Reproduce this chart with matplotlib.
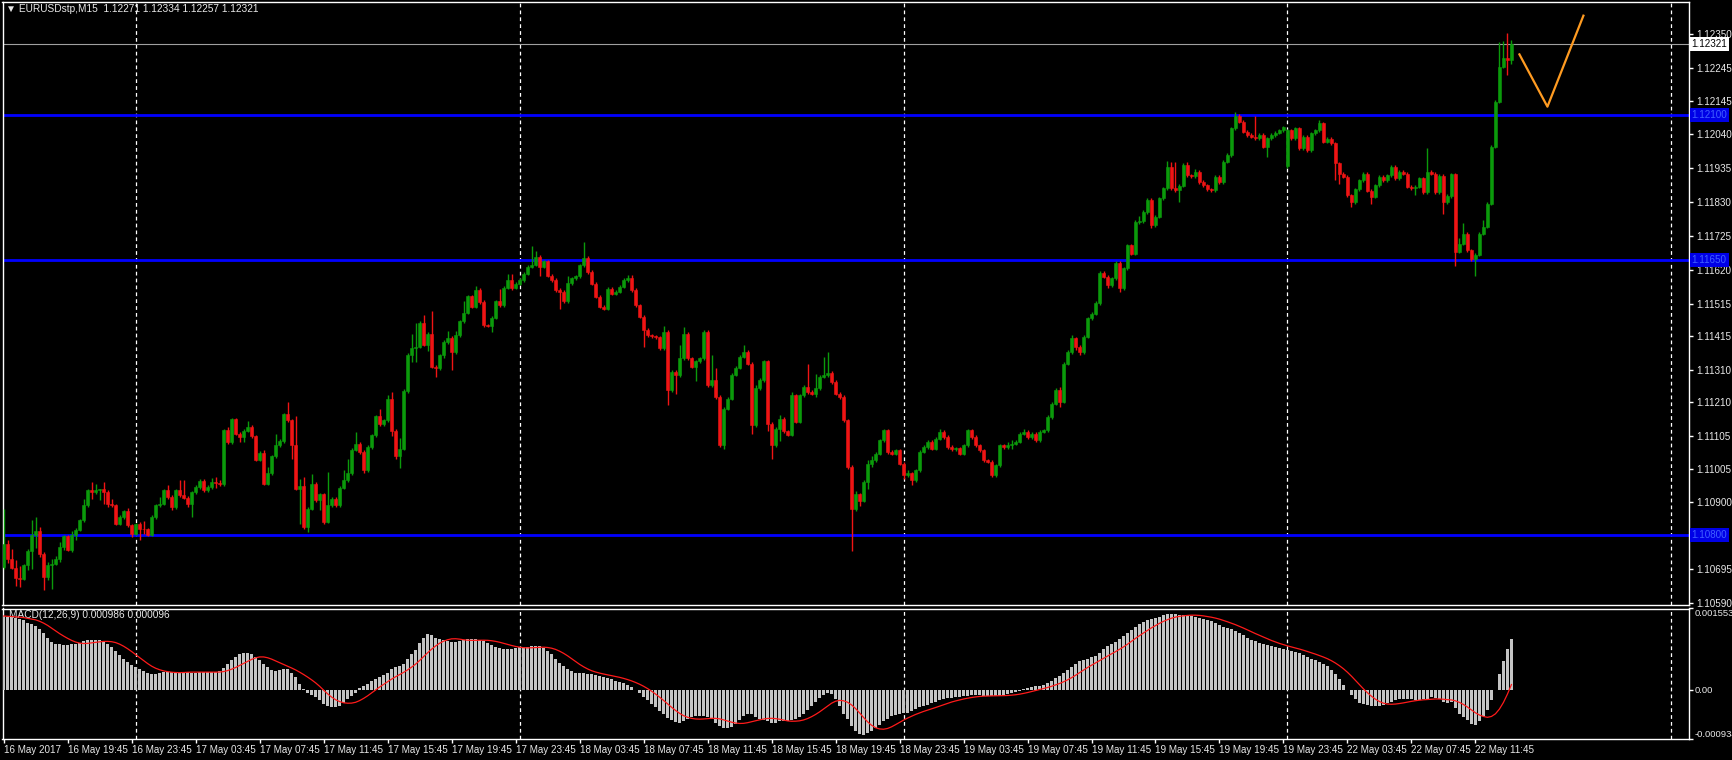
import numpy as np
import pandas as pd
import matplotlib
matplotlib.use("Agg")
import matplotlib.pyplot as plt

# EURUSD M15, prices stored as points (1e-5) above 1.10000
BASE = 1.10000
close_pts = [
    772, 726, 698, 667, 664, 705, 751, 800, 813, 739,
    669, 705, 710, 726, 762, 795, 754, 800, 816, 847,
    891, 940, 933, 940, 941, 933, 896, 891, 834, 855,
    874, 829, 803, 834, 819, 817, 798, 855, 891, 896,
    938, 917, 886, 938, 922, 915, 896, 932, 948, 967,
    938, 948, 964, 960, 957, 1124, 1087, 1157, 1113, 1103,
    1122, 1134, 1105, 1033, 1053, 958, 991, 1043, 1077, 1090,
    1173, 1155, 1077, 943, 951, 824, 881, 958, 907, 925,
    840, 891, 912, 891, 946, 969, 991, 1064, 1082, 1056,
    1000, 1072, 1108, 1167, 1142, 1155, 1222, 1121, 1044, 1067,
    1245, 1358, 1379, 1382, 1456, 1389, 1423, 1320, 1316, 1356,
    1397, 1410, 1366, 1418, 1461, 1488, 1539, 1506, 1558, 1521,
    1449, 1447, 1472, 1523, 1511, 1565, 1589, 1563, 1578, 1589,
    1609, 1630, 1637, 1660, 1630, 1647, 1602, 1589, 1558, 1552,
    1523, 1580, 1594, 1600, 1635, 1658, 1614, 1578, 1537, 1506,
    1500, 1561, 1547, 1553, 1568, 1589, 1594, 1558, 1511, 1475,
    1434, 1418, 1415, 1412, 1377, 1428, 1248, 1304, 1294, 1346,
    1423, 1346, 1320, 1337, 1346, 1428, 1263, 1279, 1227, 1077,
    1191, 1222, 1296, 1317, 1351, 1366, 1330, 1139, 1253, 1279,
    1337, 1144, 1077, 1129, 1160, 1120, 1110, 1232, 1150, 1232,
    1258, 1242, 1237, 1253, 1289, 1294, 1301, 1273, 1237, 1227,
    1155, 1010, 880, 925, 905, 963, 1020, 1030, 1051, 1093,
    1124, 1056, 1051, 1062, 1020, 984, 990, 969, 1000, 1057,
    1072, 1088, 1067, 1098, 1119, 1103, 1072, 1065, 1068, 1051,
    1077, 1124, 1103, 1077, 1062, 1031, 1026, 984, 1015, 1077,
    1072, 1077, 1082, 1088, 1113, 1119, 1103, 1113, 1093, 1119,
    1124, 1165, 1206, 1248, 1212, 1330, 1366, 1408, 1382, 1366,
    1413, 1470, 1485, 1518, 1612, 1599, 1573, 1594, 1643, 1563,
    1625, 1697, 1671, 1769, 1771, 1800, 1837, 1759, 1785, 1842,
    1873, 1940, 1873, 1868, 1881, 1945, 1914, 1910, 1924, 1893,
    1883, 1870, 1867, 1909, 1893, 1955, 1976, 2059, 2097, 2079,
    2048, 2038, 2033, 2028, 2038, 2002, 2028, 2038, 2045, 2053,
    2062, 2053, 2028, 2059, 1997, 2033, 1992, 2043, 2053, 2074,
    2017, 2027, 2012, 1950, 1919, 1909, 1852, 1831, 1870, 1898,
    1919, 1866, 1847, 1883, 1909, 1899, 1914, 1940, 1904, 1924,
    1919, 1878, 1873, 1878, 1904, 1862, 1924, 1919, 1862, 1911,
    1831, 1849, 1916, 1677, 1702, 1733, 1681, 1653, 1668, 1733,
    1754, 1826, 2002, 2141, 2250, 2276, 2271, 2321,
]
# opens differ from previous close only here (first bar, monday gap)
open_gaps = {0: 700, 321: 1942}
wick_up = [
    108, 11, 31, 23, 35, 5, 4, 45, 42, 10,
    7, 10, 16, 9, 15, 5, 5, 10, 4, 3,
    21, 3, 24, 18, 2, 23, 5, 16, 5, 5,
    2, 10, 5, 2, 5, 23, 5, 5, 5, 21,
    5, 15, 5, 5, 31, 49, 5, 5, 5, 5,
    5, 5, 13, 14, 10, 5, 10, 5, 5, 5,
    5, 19, 5, 5, 5, 10, 19, 5, 34, 5,
    5, 38, 5, 90, 23, 28, 5, 31, 5, 5,
    5, 103, 5, 5, 5, 31, 45, 5, 36, 5,
    5, 5, 5, 5, 24, 5, 10, 20, 5, 33,
    5, 5, 42, 75, 5, 24, 5, 69, 5, 5,
    5, 20, 5, 13, 5, 36, 5, 5, 12, 5,
    5, 5, 5, 5, 39, 5, 19, 19, 5, 5,
    5, 5, 57, 20, 5, 5, 5, 5, 5, 5,
    5, 23, 5, 5, 5, 49, 5, 5, 5, 5,
    5, 5, 5, 5, 5, 5, 10, 10, 5, 5,
    5, 5, 5, 5, 5, 20, 5, 5, 5, 41,
    19, 5, 5, 5, 5, 5, 5, 77, 36, 5,
    5, 5, 5, 5, 5, 21, 5, 5, 12, 5,
    5, 5, 5, 5, 10, 5, 5, 10, 5, 5,
    5, 72, 5, 46, 5, 57, 65, 5, 5, 5,
    5, 5, 5, 10, 5, 5, 10, 15, 5, 5,
    5, 5, 5, 5, 5, 5, 10, 5, 5, 5,
    5, 5, 5, 5, 10, 5, 5, 5, 5, 5,
    5, 5, 5, 5, 5, 5, 5, 5, 5, 5,
    5, 10, 10, 5, 5, 10, 5, 5, 5, 5,
    5, 5, 5, 5, 10, 5, 5, 10, 5, 5,
    5, 5, 5, 5, 5, 5, 5, 5, 5, 5,
    5, 5, 5, 5, 15, 5, 5, 5, 5, 5,
    5, 18, 16, 82, 5, 5, 10, 5, 10, 5,
    5, 5, 5, 5, 5, 5, 5, 5, 13, 5,
    5, 5, 5, 63, 5, 5, 5, 5, 5, 5,
    5, 5, 5, 5, 5, 5, 5, 5, 5, 10,
    5, 5, 5, 5, 5, 5, 5, 5, 5, 5,
    5, 5, 5, 5, 5, 5, 5, 5, 5, 5,
    5, 5, 5, 5, 5, 5, 73, 5, 5, 5,
    5, 5, 5, 5, 18, 32, 5, 5, 5, 5,
    21, 5, 5, 5, 75, 54, 78, 13,
]
wick_dn = [
    5, 14, 3, 27, 26, 4, 15, 56, 40, 9,
    41, 10, 72, 5, 11, 8, 4, 9, 16, 4,
    7, 5, 21, 6, 33, 37, 10, 5, 4, 5,
    5, 5, 10, 3, 36, 14, 3, 2, 5, 5,
    5, 5, 10, 5, 5, 5, 10, 41, 5, 5,
    5, 5, 5, 14, 5, 5, 5, 5, 5, 16,
    16, 5, 5, 5, 5, 5, 5, 5, 5, 5,
    5, 5, 41, 5, 109, 5, 16, 5, 5, 31,
    6, 5, 5, 5, 5, 5, 5, 5, 5, 5,
    10, 5, 5, 5, 5, 5, 5, 15, 10, 37,
    5, 5, 23, 44, 5, 5, 19, 5, 26, 5,
    9, 5, 56, 5, 5, 5, 5, 5, 5, 5,
    5, 5, 19, 5, 5, 5, 5, 5, 3, 5,
    5, 5, 5, 5, 28, 5, 5, 5, 5, 53,
    5, 5, 5, 5, 5, 5, 5, 5, 5, 5,
    5, 5, 5, 5, 5, 5, 5, 5, 5, 5,
    54, 5, 5, 5, 5, 5, 46, 5, 57, 5,
    5, 5, 5, 43, 5, 5, 5, 5, 5, 5,
    12, 5, 5, 5, 5, 5, 5, 26, 5, 5,
    5, 24, 41, 5, 40, 5, 5, 5, 5, 5,
    5, 5, 5, 10, 5, 5, 5, 5, 5, 5,
    5, 5, 129, 5, 15, 5, 20, 10, 5, 5,
    5, 5, 5, 5, 5, 10, 5, 15, 5, 5,
    5, 5, 5, 5, 5, 5, 5, 5, 5, 5,
    5, 5, 5, 5, 5, 5, 5, 5, 5, 5,
    5, 5, 10, 5, 5, 5, 5, 5, 5, 5,
    5, 5, 5, 5, 15, 5, 5, 5, 10, 10,
    5, 5, 5, 5, 5, 5, 10, 5, 5, 10,
    5, 5, 5, 5, 5, 5, 5, 10, 5, 5,
    5, 5, 5, 5, 38, 5, 5, 5, 5, 5,
    5, 5, 5, 5, 5, 5, 5, 5, 5, 5,
    5, 5, 5, 5, 5, 5, 32, 5, 5, 5,
    5, 5, 5, 5, 5, 5, 5, 5, 5, 5,
    5, 5, 5, 50, 31, 5, 5, 15, 5, 5,
    5, 5, 22, 5, 5, 5, 5, 5, 5, 5,
    5, 5, 5, 20, 5, 5, 5, 5, 5, 5,
    36, 5, 5, 45, 3, 5, 5, 5, 51, 5,
    5, 5, 5, 5, 5, 5, 46, 14,
]
# MACD main line, in 1e-5
macd_pts = [
    141, 140, 139, 138, 136, 134, 128, 125, 122, 116,
    108, 100, 92, 88, 87, 86, 86, 87, 88, 90,
    93, 95, 96, 96, 95, 93, 88, 82, 75, 66,
    59, 53, 48, 44, 40, 36, 32, 30, 31, 33,
    34, 34, 35, 35, 34, 34, 34, 33, 33, 34,
    34, 34, 35, 35, 36, 42, 50, 57, 63, 68,
    70, 70, 69, 63, 57, 50, 43, 39, 37, 38,
    40, 40, 33, 24, 12, 2, -5, -10, -14, -19,
    -26, -30, -32, -33, -30, -25, -18, -12, -5, 3,
    8, 12, 17, 21, 25, 28, 33, 40, 43, 45,
    50, 60, 68, 77, 90, 100, 106, 104, 100, 97,
    95, 93, 92, 92, 93, 95, 97, 97, 98, 96,
    94, 90, 85, 82, 80, 79, 78, 79, 80, 81,
    82, 82, 83, 84, 83, 80, 74, 68, 60, 52,
    45, 40, 36, 33, 32, 32, 31, 30, 29, 27,
    24, 22, 20, 18, 16, 13, 10, 6, 0, -6,
    -13, -20, -27, -33, -40, -46, -53, -58, -61, -62,
    -60, -55, -52, -50, -49, -50, -52, -56, -63, -68,
    -72, -72, -70, -64, -57, -50, -45, -46, -52, -56,
    -58, -60, -62, -62, -60, -60, -60, -58, -55, -52,
    -45, -38, -30, -22, -16, -10, -6, -8, -18, -30,
    -45, -55, -68, -78, -84, -85, -82, -78, -72, -66,
    -60, -55, -50, -47, -45, -44, -43, -40, -36, -33,
    -30, -28, -25, -22, -20, -18, -16, -15, -14, -13,
    -12, -11, -10, -10, -10, -11, -12, -12, -12, -11,
    -9, -7, -5, -3, -1, 1, 3, 5, 7, 8,
    10, 13, 17, 22, 26, 32, 38, 44, 50, 55,
    58, 60, 62, 65, 70, 78, 84, 88, 92, 98,
    102, 108, 115, 120, 125, 130, 133, 135, 137, 140,
    142, 144, 145, 144, 143, 142, 142, 141, 140, 138,
    136, 134, 132, 128, 124, 120, 118, 116, 112, 108,
    104, 100, 96, 93, 90, 88, 86, 84, 82, 80,
    78, 76, 74, 72, 70, 66, 62, 60, 57, 54,
    50, 45, 38, 30, 20, 10, 0, -10, -18, -24,
    -27, -28, -30, -31, -30, -28, -25, -22, -20, -18,
    -17, -17, -18, -19, -19, -18, -17, -14, -15, -17,
    -22, -25, -23, -35, -45, -52, -58, -65, -66, -60,
    -50, -38, -20, 0, 30, 55, 78, 98,
]

levels = [1.12100, 1.11650, 1.10800]
last_price = 1.12321
price_ticks = [1.12350, 1.12245, 1.12145, 1.12040, 1.11935, 1.11830, 1.11725,
               1.11620, 1.11515, 1.11415, 1.11310, 1.11210, 1.11105, 1.11005,
               1.10900, 1.10695, 1.10590]
macd_ticks = [0.001553, 0.0, -0.000934]
macd_tick_labels = ["0.001553", "0.00", "-0.000934"]
time_labels = ["16 May 2017", "16 May 19:45", "16 May 23:45", "17 May 03:45",
               "17 May 07:45", "17 May 11:45", "17 May 15:45", "17 May 19:45",
               "17 May 23:45", "18 May 03:45", "18 May 07:45", "18 May 11:45",
               "18 May 15:45", "18 May 19:45", "18 May 23:45", "19 May 03:45",
               "19 May 07:45", "19 May 11:45", "19 May 15:45", "19 May 19:45",
               "19 May 23:45", "22 May 03:45", "22 May 07:45", "22 May 11:45"]
time_label_bars = [0] + list(range(16, 369, 16))
day_start_bars = [33, 129, 225, 321, 417]
# hand drawn V (trend lines) in the future area
v_bars = [379, 386, 395]
v_prices = [1.12288, 1.12126, 1.12408]
header = "\u25bc EURUSDstp,M15  1.12271 1.12334 1.12257 1.12321"
macd_title = "MACD(12,26,9) 0.000986 0.000096"

n = len(close_pts)
assert len(wick_up) == n and len(wick_dn) == n and len(macd_pts) == n, (n, len(wick_up), len(wick_dn), len(macd_pts))

close = BASE + np.array(close_pts) / 1e5
opn = np.array([open_gaps.get(i, close_pts[i - 1]) for i in range(n)]) / 1e5 + BASE
high = np.maximum(opn, close) + np.array(wick_up) / 1e5
low = np.minimum(opn, close) - np.array(wick_dn) / 1e5
macd = np.array(macd_pts) / 1e5
signal = pd.Series(macd).rolling(9, min_periods=1).mean().values
x = np.arange(n)

plt.rcParams["font.family"] = ["Liberation Sans", "DejaVu Sans"]
BULL = "#0b9a0b"
BEAR = "#f01414"
FG = "#e8e8e8"
FS = 7.1

W, H = 1732, 760
fig = plt.figure(figsize=(W / 100, H / 100), dpi=100, facecolor="black")
left, right = 2.5 / W, 1689 / W
ax = fig.add_axes([left, 1 - 605 / H, right - left, (605 - 2) / H])
ax2 = fig.add_axes([left, 1 - 739 / H, right - left, (739 - 608.5) / H], sharex=ax)

for a in (ax, ax2):
    a.set_facecolor("black")
    for s in a.spines.values():
        s.set_color("white")
        s.set_linewidth(1)
    for d in day_start_bars:
        a.axvline(d, color="white", lw=0.9, ls=(0, (3, 2.5)), zorder=1)

# candles
up = close >= opn
cols = np.where(up, BULL, BEAR)
ax.vlines(x, low, high, colors=cols, lw=1, zorder=3)
ax.bar(x, close - opn, bottom=opn, width=0.72, color=cols, edgecolor=cols,
       linewidth=0.4, zorder=4)

for lv in levels:
    ax.axhline(lv, color="#0000ff", lw=2, zorder=2)
ax.axhline(last_price, color="#a0a0a0", lw=0.8, zorder=2)
ax.plot(v_bars, v_prices, color="#ff9b21", lw=1.6, zorder=5)

ax.set_xlim(-0.3, 421.4)
ax.set_ylim(1.105823, 1.124503)

ax.yaxis.tick_right()
ax.set_yticks(price_ticks)
ax.set_yticklabels(["%.5f" % p for p in price_ticks])
ax.tick_params(axis="y", colors="white", labelcolor=FG, labelsize=FS,
               length=3, width=1, pad=2)
ax.tick_params(axis="x", bottom=False, labelbottom=False)

ytr = ax.get_yaxis_transform()
for lv in levels:
    ax.text(1.0015, lv, "%.5f" % lv, transform=ytr, fontsize=FS, color="#4060ff",
            va="center", ha="left",
            bbox=dict(boxstyle="square,pad=0.2", fc="#0000e6", ec="none"), zorder=6)
ax.text(1.0015, last_price, "%.5f" % last_price, transform=ytr, fontsize=FS,
        color="black", va="center", ha="left",
        bbox=dict(boxstyle="square,pad=0.2", fc="white", ec="none"), zorder=6)

ax.text(0.002, 0.996, header, transform=ax.transAxes, fontsize=7.3, color=FG,
        va="top", ha="left")

# MACD panel
ax2.bar(x, macd, width=0.6, color="#c4c4c4", zorder=3)
ax2.plot(x, signal, color="#ff1a1a", lw=0.9, zorder=4)
ax2.set_ylim(-0.000934, 0.001553)
ax2.yaxis.tick_right()
ax2.set_yticks(macd_ticks)
ax2.set_yticklabels(macd_tick_labels)
ax2.tick_params(axis="y", colors="white", labelcolor=FG, labelsize=6.8,
                length=3, width=1, pad=1)
ylab = ax2.get_yticklabels()
ylab[0].set_va("top")
ylab[2].set_va("bottom")
ax2.text(0.004, 0.985, macd_title, transform=ax2.transAxes, fontsize=7.3,
         color=FG, va="top", ha="left")

ax2.set_xticks(time_label_bars)
ax2.set_xticklabels(time_labels)
ax2.tick_params(axis="x", colors="white", labelcolor=FG, labelsize=FS,
                length=3, width=1, pad=1)
for t in ax2.get_xticklabels():
    t.set_ha("left")

fig.savefig("out.png", dpi=100, facecolor="black")
